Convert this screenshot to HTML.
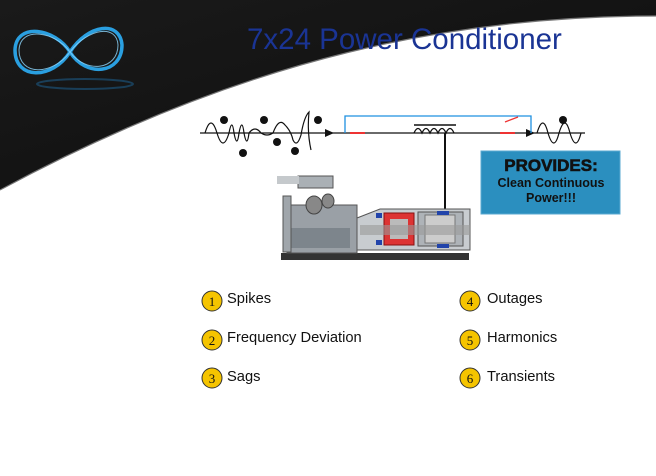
<!DOCTYPE html>
<html><head><meta charset="utf-8"><style>
body{margin:0;width:656px;height:471px;overflow:hidden;background:#fff;font-family:"Liberation Sans",sans-serif}
</style></head><body>
<svg width="656" height="471" viewBox="0 0 656 471" xmlns="http://www.w3.org/2000/svg">
<defs><linearGradient id="bg" x1="0" y1="0" x2="1" y2="1"><stop offset="0" stop-color="#1a1a1a"/><stop offset="1" stop-color="#0d0d0d"/></linearGradient></defs>
<path d="M0,0 H656 V16 C460,16 250,55 0,190 Z" fill="url(#bg)"/>
<path d="M656,16 C460,16 250,55 0,190" fill="none" stroke="#777" stroke-width="1.2"/>
<g fill="none" stroke="#2a9fe0" stroke-width="3.5">
<path d="M70,52 C55,28 16,22 15,50 C15,80 52,80 70,52 C88,24 120,20 122,45 C122,74 86,78 70,52 Z"/>
</g>
<g fill="none" stroke="#8fd8ff" stroke-width="1" opacity="0.8">
<path d="M70,52 C55,31 20,26 19,50 C19,76 52,76 70,52 C88,28 117,24 118,45 C118,70 86,74 70,52 Z"/>
</g>
<ellipse cx="85" cy="84" rx="48" ry="5" fill="none" stroke="#1d5a85" stroke-width="2" opacity="0.6"/>
<text x="247" y="49" font-size="29.5" fill="#1a3494">7x24 Power Conditioner</text>
<g stroke="#111" fill="none" stroke-width="1.2">
<line x1="200" y1="133" x2="345" y2="133"/>
<line x1="345" y1="133" x2="535" y2="133"/>
<line x1="535" y1="133" x2="585" y2="133"/>
<path d="M205,133 q6,-20 12,0 q6,20 12,0 q3,-16 5,0 q3,16 5,0 q3,-16 5,0 q3,16 5,0 q6,-8 12,0 q6,4 12,0 q6,-16 12,-8 q6,6 8,15 q4,8 8,-5 q3,-18 8,-23 q-2,20 2,38"/>
<path d="M537,133 q6,-20 11,0 q6,20 11,0 q6,-20 11,0 q6,20 11,0"/>
</g>
<polygon points="325,129 334,133 325,137" fill="#111"/>
<polygon points="526,129 535,133 526,137" fill="#111"/>
<path d="M345,133 V116 H531 V133" fill="none" stroke="#1e90e0" stroke-width="1.3"/>
<line x1="350" y1="133" x2="365" y2="133" stroke="#e33" stroke-width="2"/>
<line x1="500" y1="133" x2="515" y2="133" stroke="#e33" stroke-width="2"/>
<line x1="505" y1="122" x2="518" y2="117" stroke="#e33" stroke-width="1.3"/>
<path d="M414,133 q4,-9 8,0 q4,-9 8,0 q4,-9 8,0 q4,-9 8,0 q4,-9 8,0" fill="none" stroke="#111" stroke-width="1.3"/>
<line x1="414" y1="125" x2="456" y2="125" stroke="#111" stroke-width="1.5"/>
<line x1="445" y1="133" x2="445" y2="212" stroke="#111" stroke-width="2"/>
<g>
<circle cx="224" cy="120" r="4" fill="#111"/><circle cx="243" cy="153" r="4" fill="#111"/><circle cx="264" cy="120" r="4" fill="#111"/>
<circle cx="277" cy="142" r="4" fill="#111"/><circle cx="295" cy="151" r="4" fill="#111"/><circle cx="318" cy="120" r="4" fill="#111"/>
<circle cx="563" cy="120" r="4" fill="#111"/>
</g>
<rect x="481" y="151" width="139" height="63" fill="#2b8fbf" stroke="#5aaad0"/>
<text x="551" y="171" font-size="17" font-weight="bold" text-anchor="middle" fill="#111" stroke="#111" stroke-width="0.6">PROVIDES:</text>
<text x="551" y="187" font-size="12.5" font-weight="bold" text-anchor="middle" fill="#111">Clean Continuous</text>
<text x="551" y="202" font-size="12.5" font-weight="bold" text-anchor="middle" fill="#111">Power!!!</text>
<rect x="281" y="253" width="188" height="7" fill="#333"/>
<rect x="287" y="205" width="70" height="48" fill="#9aa0a6" stroke="#555"/>
<rect x="290" y="228" width="60" height="20" fill="#7d858c"/>
<rect x="283" y="196" width="8" height="56" fill="#a0a6ab" stroke="#555"/>
<rect x="298" y="176" width="35" height="12" fill="#aab0b5" stroke="#555"/>
<path d="M277,176 h22 v8 h-22 z" fill="#c5c9cc"/>
<ellipse cx="314" cy="205" rx="8" ry="9" fill="#888" stroke="#444"/>
<ellipse cx="328" cy="201" rx="6" ry="7" fill="#888" stroke="#444"/>
<polygon points="357,218 380,209 470,209 470,250 357,250" fill="#c8ccd0" stroke="#555"/>
<rect x="384" y="213" width="30" height="32" fill="#d33" stroke="#811"/>
<rect x="390" y="219" width="18" height="20" fill="#bbb"/>
<rect x="418" y="212" width="45" height="34" fill="#aeb3b8" stroke="#555"/>
<rect x="425" y="215" width="30" height="28" fill="#ccc" stroke="#777"/>
<rect x="360" y="225" width="110" height="10" fill="#999" opacity="0.6"/>
<rect x="376" y="213" width="6" height="5" fill="#24a"/><rect x="376" y="240" width="6" height="5" fill="#24a"/>
<rect x="437" y="211" width="12" height="4" fill="#24a"/><rect x="437" y="244" width="12" height="4" fill="#24a"/>
<g font-size="14.7" fill="#111">
<g font-family="Liberation Serif,serif" font-size="13" text-anchor="middle">
<circle cx="212" cy="301" r="10" fill="#f5c400" stroke="#333"/><text x="212" y="306">1</text>
<circle cx="212" cy="340" r="10" fill="#f5c400" stroke="#333"/><text x="212" y="345">2</text>
<circle cx="212" cy="378" r="10" fill="#f5c400" stroke="#333"/><text x="212" y="383">3</text>
<circle cx="470" cy="301" r="10" fill="#f5c400" stroke="#333"/><text x="470" y="306">4</text>
<circle cx="470" cy="340" r="10" fill="#f5c400" stroke="#333"/><text x="470" y="345">5</text>
<circle cx="470" cy="378" r="10" fill="#f5c400" stroke="#333"/><text x="470" y="383">6</text>
</g>
<text x="227" y="303">Spikes</text>
<text x="227" y="342">Frequency Deviation</text>
<text x="227" y="381">Sags</text>
<text x="487" y="303">Outages</text>
<text x="487" y="342">Harmonics</text>
<text x="487" y="381">Transients</text>
</g>
</svg>
</body></html>
